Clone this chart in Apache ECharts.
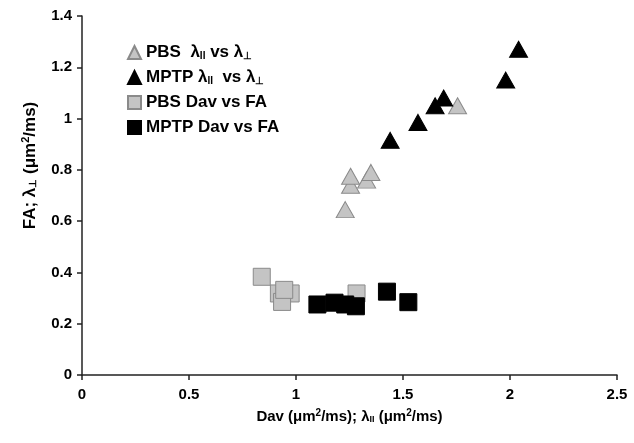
<!DOCTYPE html>
<html><head><meta charset="utf-8">
<script src="https://cdn.jsdelivr.net/npm/echarts@6/dist/echarts.min.js"></script>
<style>html,body{margin:0;padding:0;background:#fff}#c{width:634px;height:443px}</style>
</head><body><div id="c"></div>
<script>
const pbsLambda = [[1.23,0.645],[1.255,0.74],[1.255,0.775],[1.33,0.76],[1.35,0.79],[1.755,1.05]];
const mptpLambda = [[1.44,0.915],[1.57,0.985],[1.65,1.05],[1.69,1.08],[1.98,1.15],[2.04,1.27]];
const pbsDav = [[0.84,0.383],[0.92,0.318],[0.975,0.318],[0.935,0.285],[0.945,0.332],[1.283,0.318]];
const mptpDav = [[1.10,0.275],[1.18,0.282],[1.23,0.275],[1.28,0.268],[1.425,0.325],[1.525,0.284]];
const seriesNames = ['PBS λ vs λ', 'MPTP λ vs λ', 'PBS Dav vs FA', 'MPTP Dav vs FA'];
const legendRich = {
  0: '{t|PBS  λ}{s|II}{t| vs λ}{s|⊥}',
  1: '{t|MPTP λ}{s|II}{t|  vs λ}{s|⊥}',
  2: '{t|PBS Dav vs FA}',
  3: '{t|MPTP Dav vs FA}'
};
const F = 'Arial, "Liberation Sans", sans-serif';
const chart = echarts.init(document.getElementById('c'));
const gray = {color:'#c4c4c4', borderColor:'#8a8a8a', borderWidth:1, opacity:1};
const black = {color:'#000', borderColor:'#000', borderWidth:1, opacity:1};
chart.setOption({
  animation:false,
  grid:{left:82, right:17, top:16, bottom:68},
  legend:{
    orient:'vertical', left:127, top:44, padding:0, itemWidth:13, itemHeight:13, itemGap:8,
    data:seriesNames,
    formatter:function(n){return legendRich[seriesNames.indexOf(n)];},
    textStyle:{rich:{
      t:{fontFamily:F, fontWeight:'bold', fontSize:17, lineHeight:20, color:'#000'},
      s:{fontFamily:F, fontWeight:'bold', fontSize:10, lineHeight:20, color:'#000', padding:[7,0,0,0]}
    }}
  },
  xAxis:{
    type:'value', min:0, max:2.5, interval:0.5,
    name:'{t|Dav (μm}{p|2}{t|/ms); λ}{s|II}{t| (μm}{p|2}{t|/ms)}',
    nameLocation:'middle', nameGap:33,
    nameTextStyle:{rich:{
      t:{fontFamily:F, fontWeight:'bold', fontSize:15, color:'#000'},
      p:{fontFamily:F, fontWeight:'bold', fontSize:10, color:'#000', padding:[0,0,8,0]},
      s:{fontFamily:F, fontWeight:'bold', fontSize:9, color:'#000', padding:[6,0,0,0]}
    }},
    axisLine:{lineStyle:{color:'#222', width:1.5}},
    axisTick:{show:true, length:5, lineStyle:{color:'#222', width:1.5}},
    axisLabel:{fontFamily:F, fontWeight:'bold', fontSize:15, color:'#000', margin:12},
    splitLine:{show:false}
  },
  yAxis:{
    type:'value', min:0, max:1.4, interval:0.2,
    name:'{t|FA; λ}{s|⊥}{t| (μm}{p|2}{t|/ms)}',
    nameLocation:'middle', nameGap:42,
    nameTextStyle:{padding:[0,0,0,60], rich:{
      t:{fontFamily:F, fontWeight:'bold', fontSize:17, color:'#000'},
      p:{fontFamily:F, fontWeight:'bold', fontSize:11, color:'#000', padding:[0,0,9,0]},
      s:{fontFamily:F, fontWeight:'bold', fontSize:10, color:'#000', padding:[7,0,0,0]}
    }},
    axisLine:{show:true, lineStyle:{color:'#222', width:1.5}},
    axisTick:{show:true, length:5, lineStyle:{color:'#222', width:1.5}},
    axisLabel:{fontFamily:F, fontWeight:'bold', fontSize:15, color:'#000', margin:10},
    splitLine:{show:false}
  },
  series:[
    {name:seriesNames[0], type:'scatter', symbol:'triangle', symbolSize:[18,16], data:pbsLambda, itemStyle:gray},
    {name:seriesNames[1], type:'scatter', symbol:'triangle', symbolSize:[18,16], data:mptpLambda, itemStyle:black},
    {name:seriesNames[2], type:'scatter', symbol:'rect', symbolSize:17, data:pbsDav, itemStyle:gray},
    {name:seriesNames[3], type:'scatter', symbol:'rect', symbolSize:17, data:mptpDav, itemStyle:black}
  ]
});
</script></body></html>
